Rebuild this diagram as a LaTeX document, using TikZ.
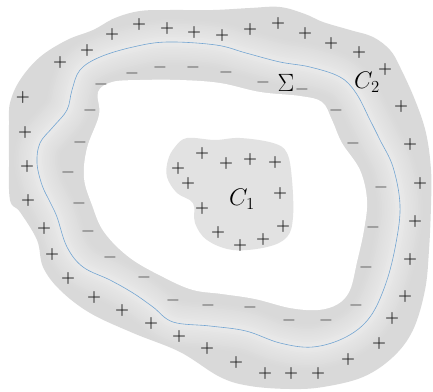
\RequirePackage{fix-cm}
\documentclass[tikz,border=0pt]{standalone}
\definecolor{shellgray}{RGB}{217,217,217}
\definecolor{glowtop}{RGB}{233,233,233}
\definecolor{sigblue}{RGB}{115,165,210}
\definecolor{minusgray}{RGB}{100,100,100}
\tikzset{
  plussign/.style={inner sep=0pt, font=\fontsize{16}{16}\selectfont\boldmath, text=black!90},
  minussign/.style={inner sep=0pt, font=\fontsize{16}{16}\selectfont\boldmath, text=minusgray},
  biglabel/.style={inner sep=0pt, font=\fontsize{24}{24}\selectfont},
  sigmalabel/.style={inner sep=0pt, font=\fontsize{25}{25}\selectfont},
}
\def\outerpath{plot[smooth cycle, tension=0.6] coordinates {
 (10,200) (9,160) (9,125) (10,103) (20,80) (40,57) (67,40) (93,30) (115,18) (140,11)
 (170,10) (213,10) (250,8) (280,7) (305,14) (323,22) (350,30) (373,37) (390,50) (400,67)
 (415,100) (426,133) (431,170) (431,205) (429,250) (425,290) (413,330) (393,357) (363,377)
 (323,387) (290,389) (250,386) (220,377) (180,352) (133,333) (90,313) (60,290) (43,267)
 (37,240) (20,212)}}
\def\sigmapath{plot[smooth cycle, tension=0.6] coordinates {
 (216,45) (167,42) (133,47) (100,57) (80,70) (72,90) (67,110) (53,127) (40,143)
 (37,163) (42,185) (50,202) (57,217) (67,247) (83,267) (110,280) (133,293) (153,307)
 (173,322) (210,326) (246,331) (280,343) (313,347) (346,337) (370,317) (386,283)
 (396,243) (400,205) (393,167) (380,140) (370,120) (356,93) (340,77) (310,67)
 (280,62) (246,53)}}
\begin{document}
\begin{tikzpicture}[x=1pt,y=-1pt]
\useasboundingbox (0,0) rectangle (433,391);
% outer conductor C2
\fill[shellgray] \outerpath;
\begin{scope}
  \clip \outerpath;
  \foreach \k in {0,...,13} {
    \pgfmathsetmacro{\w}{46-3.2*\k}
    \pgfmathsetmacro{\m}{100*(\k+1)/14}
    \draw[glowtop!\m!shellgray, line width=\w pt, line join=round] \sigmapath;
  }
\end{scope}
% cavity
\fill[white] plot[smooth cycle, tension=0.6] coordinates {
 (98,92) (112,82) (140,80) (180,80) (220,83) (260,92) (300,96) (322,102) (332,120)
 (342,143) (360,170) (367,200) (364,230) (357,262) (350,290) (338,304) (318,310)
 (290,308) (255,299) (222,294) (193,290) (165,278) (130,258) (104,232) (92,205)
 (84,178) (87,148) (99,115)};
% Gaussian surface Sigma
\draw[sigblue, line width=0.6pt] \sigmapath;
% inner conductor C1
\fill[shellgray!75!white] plot[smooth cycle, tension=0.6] coordinates {
 (187,138) (215,140) (240,138) (273,143) (287,153) (292,180) (293,217) (287,237)
 (267,247) (233,250) (207,240) (195,223) (193,203) (177,193) (167,177) (168,160)
 (175,147)};
% outer surface charges
\foreach \x/\y [count=\i] in {60/62, 87/50, 112/34, 139/24, 167/28, 194/32, 222/35,
 250/29, 278/23, 305/33, 331/43, 359/52, 385/69, 401/106, 410/144, 420/183, 415/221,
 410/259, 405/296, 392/318, 379/343, 348/359, 318/373, 291/373, 265/373, 236/362,
 207/348, 179/336, 151/323, 122/310, 94/297, 68/278, 52/254, 44/228, 28/200, 27/166,
 25/132, 23/97}
 \node[plussign] (po\i) at (\x,\y) {$+$};
% inner surface charges of C2
\foreach \x/\y [count=\i] in {101/84, 132/73, 160/67, 193/67, 226/72, 263/82, 302/89,
 336/110, 353/143, 381/187, 373/227, 366/267, 356/305, 326/320, 289/320, 250/307,
 208/305, 173/300, 144/277, 110/257, 88/231, 79/203, 68/172, 80/142, 90/110}
 \node[minussign] (mi\i) at (\x,\y) {$-$};
% charges of C1
\foreach \x/\y [count=\i] in {202/153, 178/168, 188/183, 202/208, 226/163, 250/159,
 275/162, 280/193, 283/226, 263/239, 240/245, 218/232}
 \node[plussign] (pc\i) at (\x,\y) {$+$};
% labels
\node[biglabel] (c1) at (242,199) {$C_1$};
\node[biglabel] (c2) at (367,82) {$C_2$};
\node[sigmalabel] (sig) at (286,83) {$\Sigma$};
\end{tikzpicture}
\end{document}
